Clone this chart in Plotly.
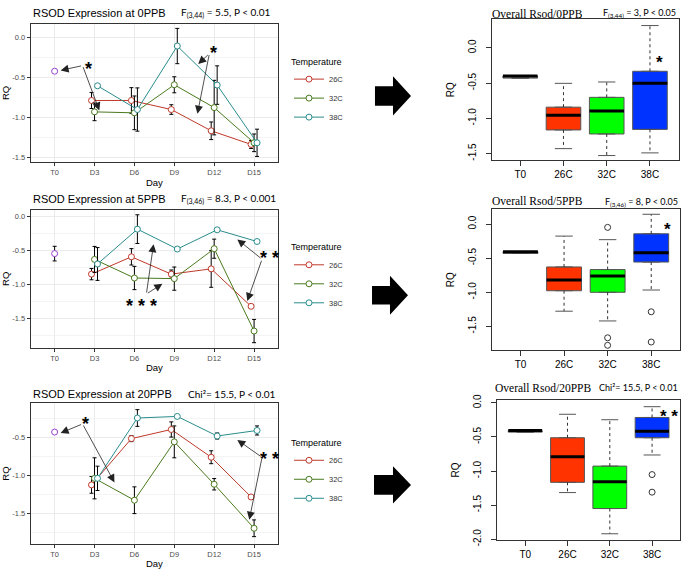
import plotly.graph_objects as go

W, H = 685, 574

DAYS = ["T0", "D3", "D6", "D9", "D12", "D15"]
TEMPS = ["26C", "32C", "38C"]
LINE_COLORS = ["#C0392B", "#4A7A1E", "#2A8C8C"]
T0_COLOR = "#9B40D0"
DODGE = [-0.075, 0.0, 0.075]

# RQ means (D3..D15) and standard errors
PPB0_T0, PPB0_T0_SE = -0.42, 0.01
PPB0_26C = [-0.785, -0.785, -0.898, -1.163, -1.333]
PPB0_26C_SE = [0.10, 0.16, 0.06, 0.11, 0.05]
PPB0_32C = [-0.927, -0.939, -0.589, -0.874, -1.313]
PPB0_32C_SE = [0.11, 0.21, 0.10, 0.34, 0.11]
PPB0_38C = [-0.602, -0.898, -0.106, -0.593, -1.313]
PPB0_38C_SE = [0.0, 0.27, 0.22, 0.24, 0.17]

PPB5_T0, PPB5_T0_SE = -0.548, 0.107
PPB5_26C = [-0.848, -0.595, -0.848, -0.771, -1.319]
PPB5_26C_SE = [0.083, 0.12, 0.06, 0.27, 0.0]
PPB5_32C = [-0.633, -0.905, -0.914, -0.476, -1.681]
PPB5_32C_SE = [0.19, 0.17, 0.17, 0.14, 0.17]
PPB5_38C = [-0.70, -0.19, -0.481, -0.20, -0.371]
PPB5_38C_SE = [0.24, 0.21, 0.0, 0.0, 0.0]

PPB20_T0, PPB20_T0_SE = -0.427, 0.01
PPB20_26C = [-1.122, -0.513, -0.393, -0.758, -1.281]
PPB20_26C_SE = [0.11, 0.04, 0.10, 0.085, 0.0]
PPB20_32C = [-1.036, -1.324, -0.556, -1.114, -1.693]
PPB20_32C_SE = [0.27, 0.176, 0.21, 0.075, 0.11]
PPB20_38C = [-1.036, -0.242, -0.221, -0.479, -0.406]
PPB20_38C_SE = [0.16, 0.11, 0.0, 0.04, 0.06]

# box summaries: T0, 26C, 32C, 38C
BOX_CATS = ["T0", "26C", "32C", "38C"]
BOX_FILLS = ["white", "#FF3300", "#00FF00", "#0033FF"]

B0_LO = [-0.43, -1.43, -1.528, -1.49]
B0_Q1 = [-0.43, -1.165, -1.222, -1.157]
B0_MED = [-0.40, -0.958, -0.897, -0.504]
B0_Q3 = [-0.40, -0.842, -0.703, -0.333]
B0_HI = [-0.40, -0.504, -0.485, 0.315]
B0_OUT_CAT, B0_OUT = [], []

B5_LO = [-0.43, -1.277, -1.42, -0.967]
B5_Q1 = [-0.43, -0.977, -1.0, -0.557]
B5_MED = [-0.406, -0.82, -0.762, -0.42]
B5_Q3 = [-0.406, -0.629, -0.667, -0.143]
B5_HI = [-0.406, -0.177, -0.229, 0.143]
B5_OUT_CAT = ["32C", "32C", "32C", "38C", "38C"]
B5_OUT = [-0.049, -1.667, -1.777, -1.286, -1.729]

B20_LO = [-0.43, -1.316, -1.92, -0.765]
B20_Q1 = [-0.43, -1.166, -1.55, -0.512]
B20_MED = [-0.405, -0.789, -1.158, -0.416]
B20_Q3 = [-0.405, -0.512, -0.928, -0.215]
B20_HI = [-0.405, -0.168, -0.248, -0.057]
B20_OUT_CAT = ["38C", "38C"]
B20_OUT = [-1.052, -1.31]


def px(x):
    return x / W


def py(y):
    return 1 - y / H


def tick_text(vals):
    return [f"{v:.1f}" for v in vals]


SANS = "Liberation Sans, Arial"
SERIF = "Liberation Serif, Times New Roman"
CALI = "Lato, Open Sans"

line_panels = [
    dict(t0=PPB0_T0, t0se=PPB0_T0_SE,
         means=[PPB0_26C, PPB0_32C, PPB0_38C], ses=[PPB0_26C_SE, PPB0_32C_SE, PPB0_38C_SE],
         title="RSOD Expression at 0PPB", stat="F<sub>(3,44)</sub> = 5.5, P &lt; 0.01",
         top=18, bottom=160, yr=[-1.557, 0.174], ticks=[0, -0.5, -1, -1.5],
         title_y=7, stat_x=272, legend_y=48,
         notes=[("*", (0.85, -0.33), (0.7, -0.35), [(0.15, -0.41), (1.12, -0.91)]),
                ("*", (3.98, -0.13), (3.88, -0.2), [(3.6, -0.33), (3.58, -0.95)])]),
    dict(t0=PPB5_T0, t0se=PPB5_T0_SE,
         means=[PPB5_26C, PPB5_32C, PPB5_38C], ses=[PPB5_26C_SE, PPB5_32C_SE, PPB5_38C_SE],
         title="RSOD Expression at 5PPB", stat="F<sub>(3,46)</sub> = 8.3, P &lt; 0.001",
         top=208.3, bottom=350, yr=[-1.93, 0.096], ticks=[0, -0.5, -1, -1.5],
         title_y=197, stat_x=278, legend_y=238,
         notes=[("* * *", (2.18, -1.24), (2.3, -1.14), [(2.48, -0.41), (2.7, -0.99)]),
                ("* *", (5.38, -0.54), (5.2, -0.63), [(4.58, -0.34), (4.83, -1.24)])]),
    dict(t0=PPB20_T0, t0se=PPB20_T0_SE,
         means=[PPB20_26C, PPB20_32C, PPB20_38C], ses=[PPB20_26C_SE, PPB20_32C_SE, PPB20_38C_SE],
         title="RSOD Expression at 20PPB", stat="Chi\u00b2= 15.5, P &lt; 0.01",
         top=406.7, bottom=550, yr=[-1.894, -0.051], ticks=[-0.5, -1, -1.5],
         title_y=397, stat_x=278, legend_y=438,
         notes=[("*", (0.78, -0.25), (0.7, -0.32), [(0.15, -0.44), (1.5, -1.09)]),
                ("* *", (5.38, -0.71), (5.2, -0.76), [(4.58, -0.53), (4.88, -1.58)])]),
]

box_panels = [
    dict(lo=B0_LO, q1=B0_Q1, med=B0_MED, q3=B0_Q3, hi=B0_HI, out_cat=B0_OUT_CAT, out=B0_OUT,
         title="Overall Rsod/0PPB", stat="F<sub>(3,44)</sub> = 3, P &lt; 0.05",
         left=491.7, right=678.5, top=13.3, bottom=158, yr=[-1.597, 0.408],
         ticks=[0, -0.5, -1, -1.5], title_x=490, title_y=8, stat_x=678, stat_y=7,
         star="*", star_pos=(3.23, -0.14)),
    dict(lo=B5_LO, q1=B5_Q1, med=B5_MED, q3=B5_Q3, hi=B5_HI, out_cat=B5_OUT_CAT, out=B5_OUT,
         title="Overall Rsod/5PPB", stat="F<sub>(3,46)</sub> = 8, P &lt; 0.05",
         left=491.7, right=680, top=208, bottom=352, yr=[-1.846, 0.216],
         ticks=[0, -0.5, -1, -1.5], title_x=490, title_y=200, stat_x=680, stat_y=201,
         star="*", star_pos=(3.38, -0.01)),
    dict(lo=B20_LO, q1=B20_Q1, med=B20_MED, q3=B20_Q3, hi=B20_HI, out_cat=B20_OUT_CAT, out=B20_OUT,
         title="Overall Rsod/20PPB", stat="Chi\u00b2= 15.5, P &lt; 0.01",
         left=497.3, right=680, top=403.5, bottom=546, yr=[-2.006, 0.036],
         ticks=[0, -0.5, -1, -1.5, -2], title_x=493, title_y=391, stat_x=680, stat_y=390,
         star="* *", star_pos=(3.4, -0.12)),
]

fig = go.Figure()
layout = dict(width=W, height=H, margin=dict(l=0, r=0, t=0, b=0),
              paper_bgcolor="white", plot_bgcolor="white",
              font=dict(family=SANS, color="black"), showlegend=True)
annotations = []
shapes = []

for i, p in enumerate(line_panels):
    n = i + 1
    xa = "x" if n == 1 else f"x{n}"
    ya = "y" if n == 1 else f"y{n}"
    leg = "legend" if n == 1 else f"legend{n}"

    for k, temp in enumerate(TEMPS):
        fig.add_trace(go.Scatter(
            x=[d + 1 + DODGE[k] for d in range(len(p["means"][k]))], y=p["means"][k],
            mode="lines+markers", name=temp, legend=leg, xaxis=xa, yaxis=ya,
            line=dict(color=LINE_COLORS[k], width=1),
            marker=dict(symbol="circle", size=6, color="white",
                        line=dict(color=LINE_COLORS[k], width=1)),
            error_y=dict(type="data", array=p["ses"][k], color="black", thickness=1, width=2),
        ))
    fig.add_trace(go.Scatter(
        x=[0], y=[p["t0"]], mode="markers", showlegend=False, xaxis=xa, yaxis=ya,
        marker=dict(symbol="circle", size=6, color="white", line=dict(color=T0_COLOR, width=1)),
        error_y=dict(type="data", array=[p["t0se"]], color="black", thickness=1, width=2),
    ))

    layout["xaxis" if n == 1 else f"xaxis{n}"] = dict(
        domain=[px(30.7), px(278)], anchor=ya, range=[-0.6, 5.6],
        tickmode="array", tickvals=list(range(len(DAYS))), ticktext=DAYS,
        showline=True, mirror=True, linecolor="#333", linewidth=1,
        ticks="outside", ticklen=3, tickcolor="#333",
        tickfont=dict(size=7.5, color="#4D4D4D"),
        showgrid=True, gridcolor="#EBEBEB", zeroline=False,
        title=dict(text="Day", font=dict(size=9.5), standoff=2),
    )
    layout["yaxis" if n == 1 else f"yaxis{n}"] = dict(
        domain=[py(p["bottom"]), py(p["top"])], anchor=xa, range=p["yr"],
        tickmode="array", tickvals=p["ticks"], ticktext=tick_text(p["ticks"]),
        minor=dict(tickmode="linear", tick0=0, dtick=0.25, showgrid=True, gridcolor="#F4F4F4"),
        showline=True, mirror=True, linecolor="#333", linewidth=1,
        ticks="outside", ticklen=3, tickcolor="#333",
        tickfont=dict(size=7.5, color="#4D4D4D"),
        showgrid=True, gridcolor="#EBEBEB", zeroline=False,
        title=dict(text="RQ", font=dict(size=9.5), standoff=4),
    )
    layout[leg] = dict(
        x=px(289), y=py(p["legend_y"]), xanchor="left", yanchor="top",
        bgcolor="rgba(0,0,0,0)", font=dict(size=7.5, color="#333"),
        title=dict(text="Temperature", font=dict(size=9, color="black")),
        itemwidth=30, tracegroupgap=0,
    )

    annotations.append(dict(text=p["title"], xref="paper", yref="paper", x=px(31), y=py(p["title_y"]),
                            xanchor="left", yanchor="middle", showarrow=False,
                            font=dict(size=11, family=SANS)))
    annotations.append(dict(text=p["stat"], xref="paper", yref="paper", x=px(p["stat_x"]),
                            y=py(p["title_y"]), xanchor="right", yanchor="middle", showarrow=False,
                            font=dict(size=10, family=CALI)))
    for label, pos, tail, heads in p["notes"]:
        annotations.append(dict(text=f"<b>{label}</b>", xref=xa, yref=ya, x=pos[0], y=pos[1],
                                showarrow=False, yshift=-5, font=dict(size=18, family=SANS)))
        for hx, hy in heads:
            annotations.append(dict(text="", xref=xa, yref=ya, x=hx, y=hy,
                                    axref=xa, ayref=ya, ax=tail[0], ay=tail[1],
                                    showarrow=True, arrowhead=2, arrowsize=2,
                                    arrowwidth=0.8, arrowcolor="#222"))

for i, b in enumerate(box_panels):
    n = i + 4
    xa, ya = f"x{n}", f"y{n}"
    for c, cat in enumerate(BOX_CATS):
        fig.add_trace(go.Box(
            x=[c], q1=[b["q1"][c]], median=[b["med"][c]], q3=[b["q3"][c]],
            lowerfence=[b["q1"][c]], upperfence=[b["q3"][c]],
            width=0.8, fillcolor=BOX_FILLS[c], line=dict(color="#555", width=1),
            boxpoints=False, showlegend=False, xaxis=xa, yaxis=ya, hoverinfo="skip",
        ))
        fig.add_trace(go.Scatter(
            x=[c, c, None, c, c], y=[b["q3"][c], b["hi"][c], None, b["q1"][c], b["lo"][c]],
            mode="lines", line=dict(color="#333", width=1, dash="3px,3px"),
            showlegend=False, xaxis=xa, yaxis=ya, hoverinfo="skip",
        ))
        fig.add_trace(go.Scatter(
            x=[c - 0.2, c + 0.2, None, c - 0.2, c + 0.2],
            y=[b["hi"][c], b["hi"][c], None, b["lo"][c], b["lo"][c]],
            mode="lines", line=dict(color="#555", width=1),
            showlegend=False, xaxis=xa, yaxis=ya, hoverinfo="skip",
        ))
        fig.add_trace(go.Scatter(
            x=[c - 0.4, c + 0.4], y=[b["med"][c], b["med"][c]],
            mode="lines", line=dict(color="black", width=3),
            showlegend=False, xaxis=xa, yaxis=ya, hoverinfo="skip",
        ))
    if b["out"]:
        fig.add_trace(go.Scatter(
            x=[BOX_CATS.index(c) for c in b["out_cat"]], y=b["out"], mode="markers",
            marker=dict(symbol="circle-open", size=6, color="#333", line=dict(width=1)),
            showlegend=False, xaxis=xa, yaxis=ya,
        ))

    layout[f"xaxis{n}"] = dict(
        domain=[px(b["left"]), px(b["right"])], anchor=ya, range=[-0.66, 3.66],
        tickmode="array", tickvals=list(range(4)), ticktext=BOX_CATS,
        showline=True, mirror=True, linecolor="#333", linewidth=1,
        ticks="outside", ticklen=5, tickcolor="#333", tickfont=dict(size=10),
        showgrid=False, zeroline=False,
    )
    layout[f"yaxis{n}"] = dict(
        domain=[py(b["bottom"]), py(b["top"])], anchor=xa, range=b["yr"],
        tickmode="array", tickvals=b["ticks"], ticktext=tick_text(b["ticks"]), tickangle=-90,
        showline=True, mirror=True, linecolor="#333", linewidth=1,
        ticks="outside", ticklen=5, tickcolor="#333", tickfont=dict(size=10),
        ticklabelstandoff=6, showgrid=False, zeroline=False,
        title=dict(text="RQ", font=dict(size=10), standoff=10),
    )
    annotations.append(dict(text=b["title"], xref="paper", yref="paper", x=px(b["title_x"]),
                            y=py(b["title_y"]), xanchor="left", yanchor="middle", showarrow=False,
                            font=dict(size=11.5, family=SERIF)))
    annotations.append(dict(text=b["stat"], xref="paper", yref="paper", x=px(b["stat_x"]),
                            y=py(b["stat_y"]), xanchor="right", yanchor="middle", showarrow=False,
                            font=dict(size=9, family=CALI)))
    annotations.append(dict(text=f"<b>{b['star']}</b>", xref=xa, yref=ya,
                            x=b["star_pos"][0], y=b["star_pos"][1], showarrow=False, yshift=-5,
                            font=dict(size=17, family=SANS)))


def block_arrow(x0, yc, length, body_h, head_h, head_len):
    xb = x0 + length - head_len
    pts = [(x0, yc - body_h / 2), (xb, yc - body_h / 2), (xb, yc - head_h / 2),
           (x0 + length, yc), (xb, yc + head_h / 2), (xb, yc + body_h / 2), (x0, yc + body_h / 2)]
    path = "M " + " L ".join(f"{px(x):.4f},{py(y):.4f}" for x, y in pts) + " Z"
    return dict(type="path", xref="paper", yref="paper", path=path,
                fillcolor="black", line=dict(width=0))


shapes.append(block_arrow(375, 92, 36, 20, 40, 18))
shapes.append(block_arrow(372, 296, 36, 19, 40, 18))
shapes.append(block_arrow(374, 490, 37, 20, 38, 18))

layout["annotations"] = annotations
layout["shapes"] = shapes
fig.update_layout(**layout)
# the page body has an 8px default margin; drop it so the figure sits at the window corner
fig.write_html("out.html", config={"displayModeBar": False},
               post_script="document.body.style.margin='0px';")
